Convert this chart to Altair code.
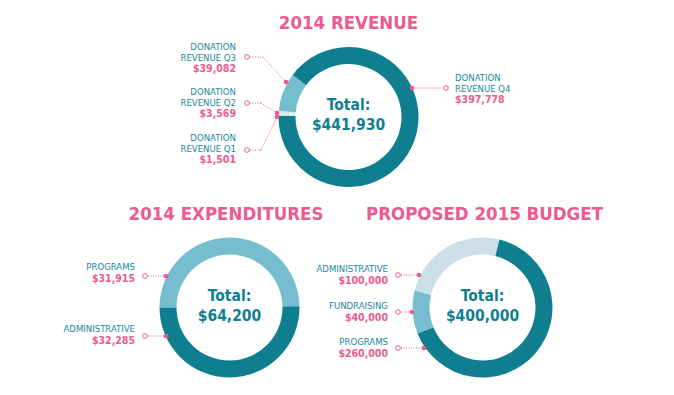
import math
import altair as alt
import pandas as pd

# ---------------- data ----------------
titles = ["2014 REVENUE", "2014 EXPENDITURES", "PROPOSED 2015 BUDGET"]

rev_cats = ["DONATION REVENUE Q1", "DONATION REVENUE Q2", "DONATION REVENUE Q3", "DONATION REVENUE Q4"]
rev_vals = [1501, 3569, 39082, 397778]
rev_total = 441930

exp_cats = ["PROGRAMS", "ADMINISTRATIVE"]
exp_vals = [31915, 32285]
exp_total = 64200

bud_cats = ["FUNDRAISING", "ADMINISTRATIVE", "PROGRAMS"]
bud_vals = [40000, 100000, 260000]
bud_total = 400000

# ---------------- style / layout ----------------
OFF = 8  # page margin
W, H = 658, 379
PINK = "#ec5a91"
TEAL = "#0f7f8f"
TEAL_TXT = "#1a8799"
LIGHT = "#76bdd0"
PALE = "#cadfe7"
PALER = "#dcebf0"
COND = "Noto Sans ExtraCondensed, Noto Sans Condensed, Liberation Sans Narrow, DejaVu Sans Condensed, sans-serif"
LAB = "Noto Sans Condensed, Liberation Sans Narrow, DejaVu Sans Condensed, sans-serif"
R_IN, R_OUT = 53, 70

rev_colors = [PALER, PALER, LIGHT, TEAL]
exp_colors = [LIGHT, TEAL]
bud_colors = [LIGHT, PALE, TEAL]

centers = [(348.5, 117), (229.5, 307.5), (482.5, 307.5)]
starts = [271, 270, 248]
title_pos = [(348.5, 23), (226, 213.5), (484.5, 214)]

# label blocks: (x, y of first line, align)
rev_lab = [(236, 137.7, "right"), (236, 91.7, "right"), (236, 46.7, "right"), (455, 77.7, "left")]
exp_lab = [(135, 267, "right"), (135, 329, "right")]
bud_lab = [(388, 306, "right"), (388, 269, "right"), (388, 342, "right")]

# connectors: list of polyline points (label end first, ring end last)
rev_con = [[(250, 150), (261, 150), (277, 117)],
           [(250, 103), (261, 103), (277, 113)],
           [(250, 57), (263, 57), (286, 82)],
           [(443, 88), (412, 88)]]
exp_con = [[(148, 276), (166, 276)], [(148, 336), (166, 336)]]
bud_con = [[(401, 312), (412, 312)], [(401, 275), (419, 275)], [(401, 348), (424, 348)]]


def donut(cats, vals, colors, center, start_deg):
    df = pd.DataFrame({"cat": cats, "val": vals, "col": colors, "ord": list(range(len(cats)))})
    s = math.radians(start_deg)
    return alt.Chart(df).mark_arc(innerRadius=R_IN, outerRadius=R_OUT).encode(
        theta=alt.Theta("val:Q", stack=True, scale=alt.Scale(range=[s, s + 2 * math.pi])),
        color=alt.Color("col:N", scale=None),
        order=alt.Order("ord:Q"),
        x=alt.value(center[0] - OFF),
        y=alt.value(center[1] - OFF),
    )


name_rows = {"left": [], "right": []}
val_rows = {"left": [], "right": []}
rules, circles, dots = [], [], []

for cats, vals, labs, cons in [(rev_cats, rev_vals, rev_lab, rev_con),
                               (exp_cats, exp_vals, exp_lab, exp_con),
                               (bud_cats, bud_vals, bud_lab, bud_con)]:
    for c, v, (lx, ly, al), con in zip(cats, vals, labs, cons):
        parts = c.split(" ", 1) if c.startswith("DONATION") else [c]
        y = ly
        for i, p in enumerate(parts):
            name_rows[al].append({"x": lx - OFF, "y": y - OFF, "t": p})
            if i < len(parts) - 1:
                y += 11
        val_rows[al].append({"x": lx - OFF, "y": y + 11.5 - OFF, "t": "${:,}".format(v)})
        for (x1, y1), (x2, y2) in zip(con[:-1], con[1:]):
            rules.append({"x": x1 - OFF, "y": y1 - OFF, "x2": x2 - OFF, "y2": y2 - OFF})
        circles.append({"x": con[0][0] - OFF - (3 if con[0][0] < con[-1][0] else -3), "y": con[0][1] - OFF})
        dots.append({"x": con[-1][0] - OFF, "y": con[-1][1] - OFF})

X = lambda f="x": alt.X(f + ":Q", scale=None, axis=None)
Y = lambda f="y": alt.Y(f + ":Q", scale=None, axis=None)

layers = []
layers.append(donut(rev_cats, rev_vals, rev_colors, centers[0], starts[0]))
layers.append(donut(exp_cats, exp_vals, exp_colors, centers[1], starts[1]))
layers.append(donut(bud_cats, bud_vals, bud_colors, centers[2], starts[2]))

layers.append(alt.Chart(pd.DataFrame(rules)).mark_rule(color=PINK, strokeWidth=1, strokeDash=[1, 1.5]).encode(
    x=X(), y=Y(), x2=alt.X2("x2:Q"), y2=alt.Y2("y2:Q")))
layers.append(alt.Chart(pd.DataFrame(circles)).mark_point(shape="circle", filled=True, fill="white",
                                                          stroke=PINK, strokeWidth=1, size=22, opacity=1).encode(x=X(), y=Y()))
layers.append(alt.Chart(pd.DataFrame(dots)).mark_circle(color=PINK, size=22, opacity=1).encode(x=X(), y=Y()))

for al in ["left", "right"]:
    layers.append(alt.Chart(pd.DataFrame(name_rows[al])).mark_text(
        align=al, baseline="middle", font=LAB, fontSize=9.5, color=TEAL_TXT).encode(x=X(), y=Y(), text="t:N"))
    layers.append(alt.Chart(pd.DataFrame(val_rows[al])).mark_text(
        align=al, baseline="middle", font=LAB, fontSize=10.5, fontWeight="bold", color=PINK).encode(x=X(), y=Y(), text="t:N"))

title_df = pd.DataFrame({"t": titles, "x": [p[0] - OFF for p in title_pos], "y": [p[1] - OFF for p in title_pos]})
layers.append(alt.Chart(title_df).mark_text(align="center", baseline="middle", font=COND, fontSize=18.5,
                                            fontWeight="bold", color=PINK).encode(x=X(), y=Y(), text="t:N"))

totals = [rev_total, exp_total, bud_total]
tot_rows = []
for (cx, cy), tv in zip(centers, totals):
    tot_rows.append({"x": cx - OFF, "y": cy - 12 - OFF, "t": "Total:"})
    tot_rows.append({"x": cx - OFF, "y": cy + 8 - OFF, "t": "${:,}".format(tv)})
layers.append(alt.Chart(pd.DataFrame(tot_rows)).mark_text(align="center", baseline="middle", font=COND, fontSize=15.5,
                                                          fontWeight="bold", color=TEAL).encode(x=X(), y=Y(), text="t:N"))

chart = alt.layer(*layers).resolve_scale(theta="independent").properties(
    width=W, height=H, autosize=alt.AutoSizeParams(type="none"), padding=0
).configure_view(strokeWidth=0)

chart.save("out.html", embed_options={"renderer": "svg", "actions": False})
